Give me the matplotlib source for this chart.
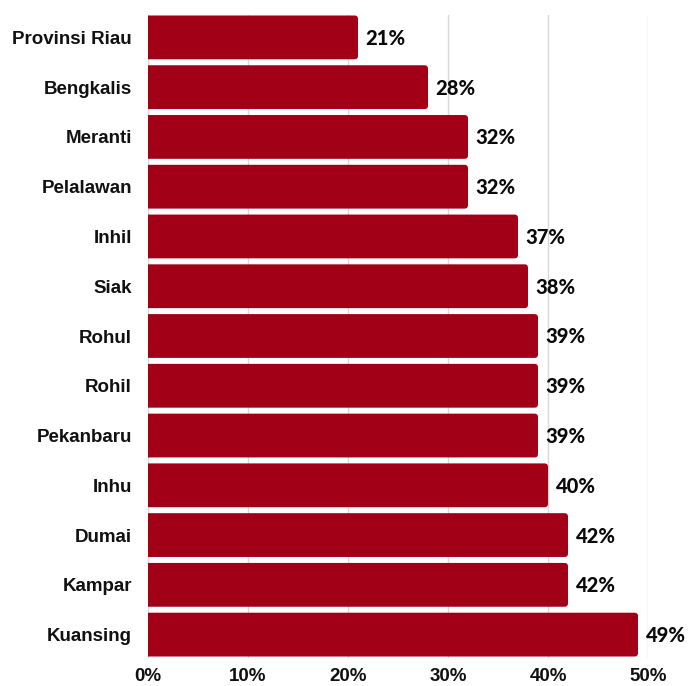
import matplotlib
matplotlib.use("Agg")
import matplotlib.pyplot as plt
from matplotlib.patches import FancyBboxPatch

regions = ["Provinsi Riau", "Bengkalis", "Meranti", "Pelalawan", "Inhil", "Siak",
           "Rohul", "Rohil", "Pekanbaru", "Inhu", "Dumai", "Kampar", "Kuansing"]
values = [21, 28, 32, 32, 37, 38, 39, 39, 39, 40, 42, 42, 49]
xticks = [0, 10, 20, 30, 40, 50]
xtick_labels = ["0%", "10%", "20%", "30%", "40%", "50%"]

bar_color = "#A10016"

fig = plt.figure(figsize=(6.93, 6.86), dpi=100)
ax = fig.add_axes([148 / 693, 1 - 658 / 686, 500 / 693, 643 / 686])

ypos = list(range(len(regions)))
bars = ax.barh(ypos, values, height=0.88, color=bar_color)

# swap the plain rectangles for ones with softly rounded corners
for rect in bars.patches:
    x, y = rect.get_x(), rect.get_y()
    w, h = rect.get_width(), rect.get_height()
    rect.set_visible(False)
    patch = FancyBboxPatch((x - 1, y), w + 1, h,
                           boxstyle="round,pad=0,rounding_size=0.35",
                           mutation_aspect=0.2,
                           facecolor=bar_color, edgecolor="none", zorder=2)
    ax.add_patch(patch)

for yi, v in zip(ypos, values):
    ax.text(v + 0.75, yi + 0.02, f"{v}%", va="center", ha="left",
            fontsize=14.5, fontweight="black", family="Lato", color="#0a0a0a")

ax.set_xlim(0, 50)
ax.set_ylim(12.47, -0.45)
ax.set_xticks(xticks)
ax.set_xticklabels(xtick_labels)
ax.set_yticks(ypos)
ax.set_yticklabels(regions)

for lbl in ax.get_xticklabels() + ax.get_yticklabels():
    lbl.set_family("Liberation Sans")
    lbl.set_fontweight("bold")
    lbl.set_fontsize(13.5)
    lbl.set_color("#111111")

ax.tick_params(axis="y", length=0, pad=11.5)
ax.tick_params(axis="x", length=0, pad=7)
ax.grid(axis="x", color="#d9d9d9", linewidth=1)
ax.set_axisbelow(True)
for s in ax.spines.values():
    s.set_visible(False)

fig.savefig("out.png", dpi=100)
